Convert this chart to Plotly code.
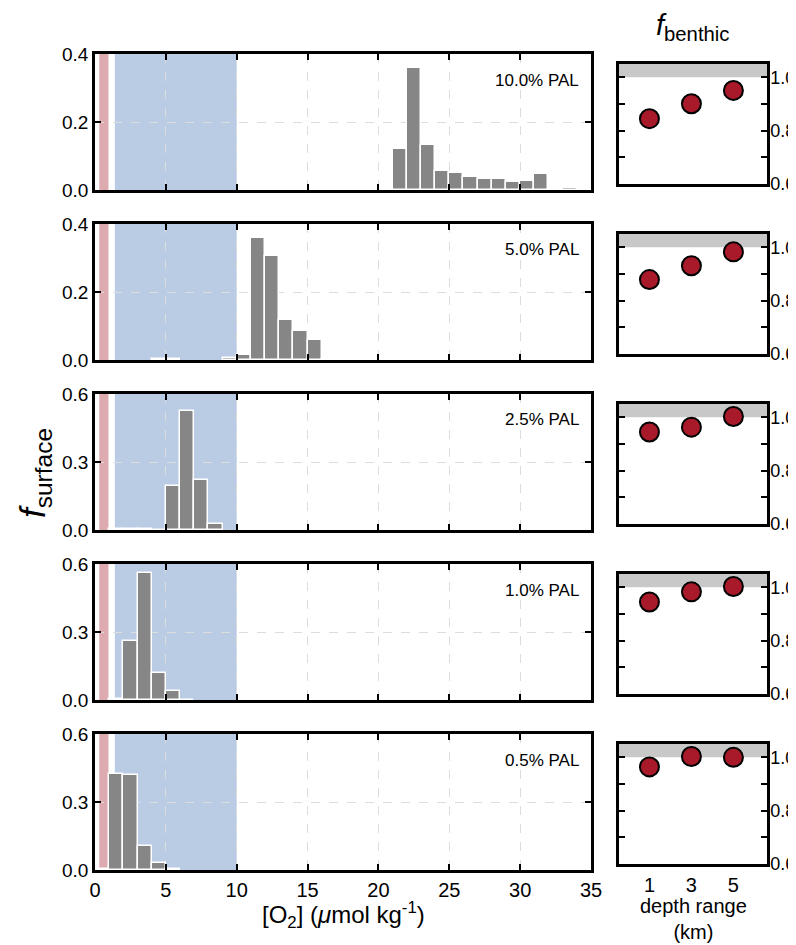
import plotly.graph_objects as go

# ---------------- data ----------------
pal_labels = ["10.0% PAL", "5.0% PAL", "2.5% PAL", "1.0% PAL", "0.5% PAL"]

o2_bins_10 = [21.5, 22.5, 23.5, 24.5, 25.5, 26.5, 27.5, 28.5, 29.5, 30.5, 31.5, 32.5, 33.5]
f_surface_10 = [0.121, 0.360, 0.131, 0.056, 0.051, 0.039, 0.031, 0.031, 0.024, 0.026, 0.047, 0.0, 0.006]

o2_bins_5 = [4.5, 5.5, 9.5, 10.5, 11.5, 12.5, 13.5, 14.5, 15.5, 16.5, 17.5]
f_surface_5 = [0.003, 0.003, 0.005, 0.015, 0.360, 0.305, 0.117, 0.086, 0.060, 0.003, 0.002]

o2_bins_2p5 = [1.5, 2.5, 3.5, 4.5, 5.5, 6.5, 7.5, 8.5]
f_surface_2p5 = [0.004, 0.003, 0.003, 0.002, 0.195, 0.523, 0.220, 0.025]

o2_bins_1 = [1.5, 2.5, 3.5, 4.5, 5.5, 6.5]
f_surface_1 = [0.005, 0.261, 0.560, 0.118, 0.040, 0.002]

o2_bins_0p5 = [0.5, 1.5, 2.5, 3.5, 4.5, 5.5]
f_surface_0p5 = [0.004, 0.425, 0.421, 0.108, 0.032, 0.003]

o2_bins = [o2_bins_10, o2_bins_5, o2_bins_2p5, o2_bins_1, o2_bins_0p5]
f_surface = [f_surface_10, f_surface_5, f_surface_2p5, f_surface_1, f_surface_0p5]

depth_km = [1, 3, 5]
f_benthic_10 = [0.845, 0.901, 0.951]
f_benthic_5 = [0.879, 0.931, 0.983]
f_benthic_2p5 = [0.945, 0.963, 1.003]
f_benthic_1 = [0.945, 0.983, 1.003]
f_benthic_0p5 = [0.964, 1.003, 1.000]
f_benthic = [f_benthic_10, f_benthic_5, f_benthic_2p5, f_benthic_1, f_benthic_0p5]

y_max = [0.4, 0.4, 0.6, 0.6, 0.6]
y_ticks = [[0, 0.2, 0.4], [0, 0.2, 0.4], [0, 0.3, 0.6], [0, 0.3, 0.6], [0, 0.3, 0.6]]
x_ticks = [0, 5, 10, 15, 20, 25, 30, 35]
red_band = [0.3, 0.95]
blue_band = [1.4, 10.0]
benthic_band = [1.0, 1.05]
benthic_ticks = [0.6, 0.7, 0.8, 0.9, 1.0]
benthic_ticktext = ["0.6", "", "0.8", "", "1.0"]

# ---------------- layout geometry ----------------
W, H = 796, 945
FONT = "Liberation Sans, Arial, Helvetica, sans-serif"
left_x = [87 / W, 583 / W]
right_x = [611 / W, 759 / W]
left_tops = [46, 216, 386, 556, 726]
left_h = 136
right_off = 10
right_h = 120


def ydom(top, h):
    return [1 - (top + h) / H, 1 - top / H]


def sfx(n):
    return "" if n == 1 else str(n)


fig = go.Figure()
layout = dict(
    width=W, height=H,
    margin=dict(l=0, r=0, t=0, b=0),
    paper_bgcolor="white", plot_bgcolor="white",
    showlegend=False,
    font=dict(family=FONT, size=19, color="black"),
    bargap=0,
)
shapes = []
annotations = []

axis_common = dict(
    showline=True, linewidth=2.5, linecolor="black", mirror="ticks",
    ticks="inside", ticklen=6, tickwidth=2, tickcolor="black",
    zeroline=False, automargin=False,
    tickfont=dict(family=FONT, size=19, color="black"),
)

for i in range(5):
    li = sfx(i + 1)
    ri = sfx(i + 6)
    # left histogram
    fig.add_trace(go.Bar(
        x=o2_bins[i], y=f_surface[i], width=1,
        marker=dict(color="#868686", line=dict(color="white", width=1.5)),
        xaxis=f"x{li}", yaxis=f"y{li}", hoverinfo="x+y",
    ))
    layout[f"xaxis{li}"] = dict(
        axis_common, domain=left_x, anchor=f"y{li}", range=[0, 35],
        tickvals=x_ticks, showticklabels=(i == 4),
        tickfont=dict(family=FONT, size=20, color="black"),
        showgrid=True, gridcolor="#dddddd", griddash="dash", gridwidth=1,
    )
    layout[f"yaxis{li}"] = dict(
        axis_common, domain=ydom(left_tops[i], left_h), anchor=f"x{li}",
        range=[0, y_max[i]], tickvals=y_ticks[i], tickformat=".1f",
        showgrid=True, gridcolor="#dddddd", griddash="dash", gridwidth=1,
    )
    shapes.append(dict(type="rect", xref=f"x{li}", yref=f"y{li} domain",
                       x0=red_band[0], x1=red_band[1], y0=0, y1=1,
                       fillcolor="#dcaaaf", line=dict(width=0), layer="below"))
    shapes.append(dict(type="rect", xref=f"x{li}", yref=f"y{li} domain",
                       x0=blue_band[0], x1=blue_band[1], y0=0, y1=1,
                       fillcolor="#bacbe4", line=dict(width=0), layer="below"))
    annotations.append(dict(text=pal_labels[i], xref=f"x{li} domain", yref=f"y{li} domain",
                            x=0.98, y=1 - 26 / left_h, xanchor="right", yanchor="middle",
                            showarrow=False, font=dict(family=FONT, size=17, color="black")))

    # right benthic panel
    fig.add_trace(go.Scatter(
        x=depth_km, y=f_benthic[i], mode="markers",
        marker=dict(size=19, color="#a81a2a", line=dict(color="black", width=2)),
        xaxis=f"x{ri}", yaxis=f"y{ri}", cliponaxis=False,
    ))
    layout[f"xaxis{ri}"] = dict(
        axis_common, domain=right_x, anchor=f"y{ri}", range=[-0.45, 6.6],
        tickvals=depth_km, ticks="", showticklabels=(i == 4), showgrid=False,
        mirror=True, ticklabelstandoff=1,
        tickfont=dict(family=FONT, size=20, color="black"),
    )
    layout[f"yaxis{ri}"] = dict(
        axis_common, domain=ydom(left_tops[i] + right_off, right_h), anchor=f"x{ri}",
        range=[0.6, 1.05], side="right", tickvals=benthic_ticks,
        ticktext=benthic_ticktext, showgrid=False, ticklabelstandoff=-3,
        tickfont=dict(family=FONT, size=18, color="black"),
    )
    shapes.append(dict(type="rect", xref=f"x{ri} domain", yref=f"y{ri}",
                       x0=0, x1=1, y0=benthic_band[0], y1=benthic_band[1],
                       fillcolor="#c8c8c8", line=dict(width=0), layer="below"))

# titles
annotations.append(dict(text="<i>f</i><sub>surface</sub>", xref="paper", yref="paper",
                        x=27 / W, y=1 - 465 / H, textangle=-90, showarrow=False,
                        xanchor="center", yanchor="middle",
                        font=dict(family=FONT, size=35, color="black")))
annotations.append(dict(text="<i>f</i><sub>benthic</sub>", xref="paper", yref="paper",
                        x=684 / W, y=1 - 19 / H, showarrow=False,
                        xanchor="center", yanchor="middle",
                        font=dict(family=FONT, size=29, color="black")))
annotations.append(dict(text="[O<sub>2</sub>] (<i>\u03bc</i>mol kg<sup>-1</sup>)",
                        xref="paper", yref="paper",
                        x=335 / W, y=1 - 907 / H, showarrow=False,
                        xanchor="center", yanchor="middle",
                        font=dict(family=FONT, size=24, color="black")))
annotations.append(dict(text="depth range<br>(km)", xref="paper", yref="paper",
                        x=685 / W, y=1 - 911 / H, showarrow=False,
                        xanchor="center", yanchor="middle",
                        font=dict(family=FONT, size=20, color="black")))

layout["shapes"] = shapes
layout["annotations"] = annotations
fig.update_layout(**layout)
fig.write_html("out.html")
